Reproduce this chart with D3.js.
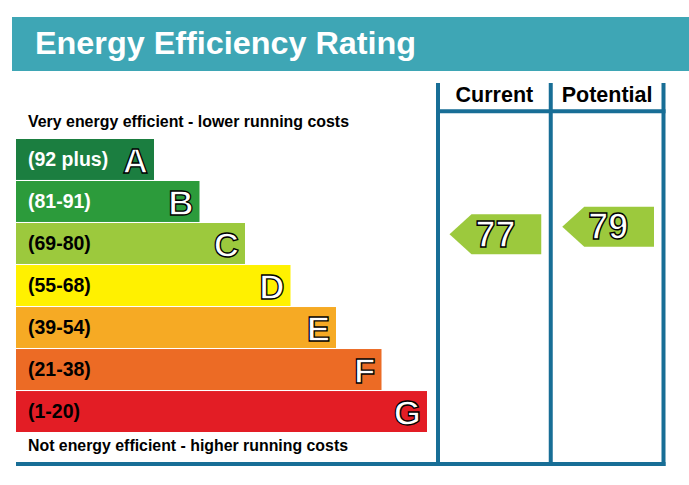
<!DOCTYPE html>
<html>
<head>
<meta charset="utf-8">
<script src="https://cdn.jsdelivr.net/npm/d3@7"></script>
<style>
  body { margin: 0; background: #fff; }
  text { font-family: "Liberation Sans", Arial, sans-serif; }
</style>
</head>
<body>
<div id="chart"></div>
<script>
const width = 689, height = 485;

// rating bands, best to worst
const bandLetters = ["A", "B", "C", "D", "E", "F", "G"];
const bandLabels = ["(92 plus)", "(81-91)", "(69-80)", "(55-68)", "(39-54)", "(21-38)", "(1-20)"];
const bandLow = [92, 81, 69, 55, 39, 21, 1];
const bandHigh = [100, 91, 80, 68, 54, 38, 20];
const bandColors = ["#1b7e40", "#2c9b3b", "#9cc93d", "#fff100", "#f6aa24", "#ec6b25", "#e31d25"];
const bandTextColors = ["#fff", "#fff", "#000", "#000", "#000", "#000", "#000"];

// ratings
const columns = ["Current", "Potential"];
const ratings = [77, 79];

const frameColor = "#186e96";

const svg = d3.select("#chart").append("svg")
    .attr("width", width)
    .attr("height", height);

// title banner
svg.append("rect")
    .attr("x", 12).attr("y", 17)
    .attr("width", width - 12).attr("height", 54)
    .attr("fill", "#3ea6b5");

svg.append("text")
    .attr("x", 35).attr("y", 53.5)
    .attr("fill", "#fff")
    .attr("font-size", 32)
    .attr("font-weight", "bold")
    .attr("textLength", 381)
    .attr("lengthAdjust", "spacingAndGlyphs")
    .text("Energy Efficiency Rating");

// scales
const y = d3.scaleBand()
    .domain(bandLetters)
    .range([139, 432])
    .paddingInner(0.025);

const barEnd = d3.scaleLinear()
    .domain([0, bandLetters.length - 1])
    .range([154, 427]);

const x0 = 16;

// value -> vertical position inside its band
const ratingDomain = [], ratingRange = [];
bandLetters.slice().reverse().forEach((b, j) => {
    const i = bandLetters.length - 1 - j;
    ratingDomain.push(bandLow[i], bandHigh[i]);
    ratingRange.push(y(b) + y.bandwidth(), y(b));
});
const ratingY = d3.scaleLinear().domain(ratingDomain).range(ratingRange);

const col = d3.scaleBand()
    .domain(columns)
    .range([438, 663.5]);

// band bars
const bands = svg.append("g")
    .selectAll("g")
    .data(bandLetters)
    .enter().append("g");

bands.append("rect")
    .attr("x", x0)
    .attr("y", d => y(d))
    .attr("width", (d, i) => barEnd(i) - x0)
    .attr("height", y.bandwidth())
    .attr("fill", (d, i) => bandColors[i]);

bands.append("text")
    .attr("x", 28)
    .attr("y", d => y(d) + 26.5)
    .attr("font-size", 19.5)
    .attr("font-weight", "bold")
    .attr("fill", (d, i) => bandTextColors[i])
    .text((d, i) => bandLabels[i]);

bands.append("text")
    .attr("x", (d, i) => barEnd(i) - 6)
    .attr("y", d => y(d) + 33.5)
    .attr("text-anchor", "end")
    .attr("font-size", 35)
    .attr("font-weight", "bold")
    .attr("fill", "#fff")
    .attr("stroke", "#000")
    .attr("stroke-width", 1.3)
    .text(d => d);

// captions
svg.append("text")
    .attr("x", 28).attr("y", 126.5)
    .attr("font-size", 16)
    .attr("font-weight", "bold")
    .attr("textLength", 321)
    .attr("lengthAdjust", "spacingAndGlyphs")
    .text("Very energy efficient - lower running costs");

svg.append("text")
    .attr("x", 28).attr("y", 451)
    .attr("font-size", 16)
    .attr("font-weight", "bold")
    .attr("textLength", 320)
    .attr("lengthAdjust", "spacingAndGlyphs")
    .text("Not energy efficient - higher running costs");

// column headers
svg.selectAll(".colhead")
    .data(columns)
    .enter().append("text")
    .attr("class", "colhead")
    .attr("x", d => col(d) + col.bandwidth() / 2)
    .attr("y", 102)
    .attr("text-anchor", "middle")
    .attr("font-size", 21.5)
    .attr("font-weight", "bold")
    .text(d => d);

// frame lines
const frame = svg.append("g")
    .attr("stroke", frameColor)
    .attr("stroke-width", 4);

frame.selectAll(".vline")
    .data(columns.concat(["end"]))
    .enter().append("line")
    .attr("x1", (d, i) => col.range()[0] + i * col.step())
    .attr("x2", (d, i) => col.range()[0] + i * col.step())
    .attr("y1", 83)
    .attr("y2", 466);

frame.append("line")
    .attr("x1", col.range()[0] - 2).attr("x2", col.range()[1] + 2)
    .attr("y1", 111.3).attr("y2", 111.3);

frame.append("line")
    .attr("x1", x0).attr("x2", col.range()[1] + 2)
    .attr("y1", 464).attr("y2", 464);

// rating arrows
const arrowH = 40;
const arrows = svg.append("g")
    .selectAll("g")
    .data(ratings)
    .enter().append("g");

function bandIndex(v) {
    return bandLow.findIndex(lo => v >= lo);
}

arrows.append("path")
    .attr("fill", v => bandColors[bandIndex(v)])
    .attr("d", (v, i) => {
        const left = col(columns[i]) + 11.5;
        const right = col(columns[i]) + col.step() - 9.5;
        const cy = ratingY(v);
        const p = d3.path();
        p.moveTo(left, cy);
        p.lineTo(left + 22, cy - arrowH / 2);
        p.lineTo(right, cy - arrowH / 2);
        p.lineTo(right, cy + arrowH / 2);
        p.lineTo(left + 22, cy + arrowH / 2);
        p.closePath();
        return p.toString();
    });

arrows.append("text")
    .attr("x", (v, i) => col(columns[i]) + 11.5 + 22 + 4)
    .attr("y", v => ratingY(v) + 12.4)
    .attr("font-size", 36)
    .attr("font-weight", "bold")
    .attr("fill", "#fff")
    .attr("stroke", "#000")
    .attr("stroke-width", 1.4)
    .text(v => v);
</script>
</body>
</html>
